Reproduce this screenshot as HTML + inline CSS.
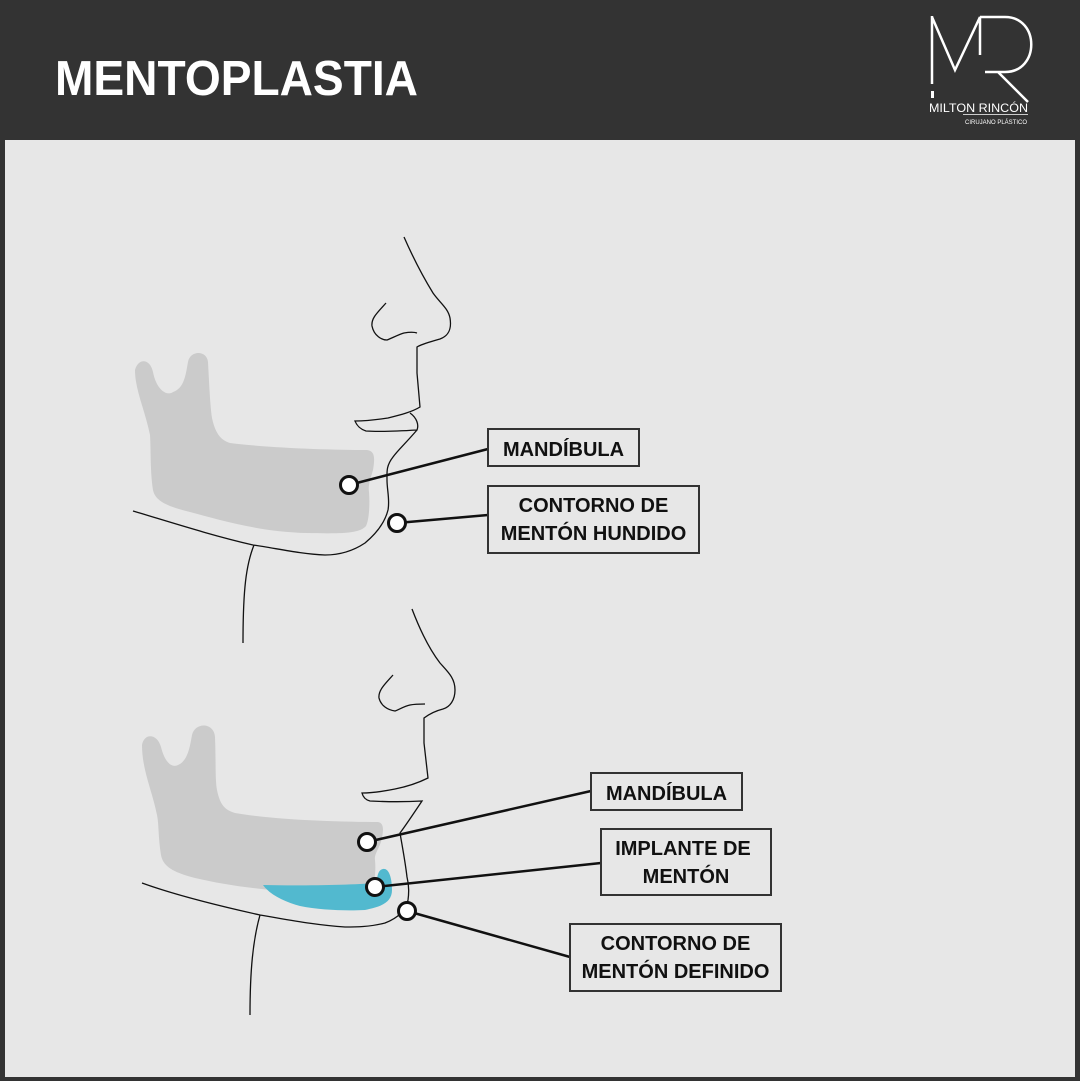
<!DOCTYPE html>
<html><head><meta charset="utf-8"><style>
html,body{margin:0;padding:0;background:#333;}
svg{display:block}
</style></head><body>
<svg width="1080" height="1081" viewBox="0 0 1080 1081" xmlns="http://www.w3.org/2000/svg">
<rect x="0" y="0" width="1080" height="1081" fill="#333"/>
<rect x="5" y="140" width="1070" height="937" fill="#e7e7e7"/>
<text x="55" y="95" font-family="Liberation Sans, sans-serif" font-weight="bold" font-size="49" fill="#fff" textLength="363" lengthAdjust="spacingAndGlyphs">MENTOPLASTIA</text>
<!-- logo -->
<g stroke="#fff" stroke-width="2.5" fill="none">
<path d="M932 16 V84 M932 17 L955 70 L980 17 V55"/>
<path d="M980 17 H1005 C1040 17 1040 72 1005 72 H985 M998 72 L1028 102"/>
</g>
<rect x="931" y="91" width="3" height="7" fill="#fff"/>
<text x="929" y="112" font-family="Liberation Sans, sans-serif" font-size="11.5" fill="#fff" textLength="99" lengthAdjust="spacingAndGlyphs">MILTON RINCÓN</text>
<line x1="963" y1="114.5" x2="1028" y2="114.5" stroke="#fff" stroke-width="0.8"/>
<text x="965" y="124" font-family="Liberation Sans, sans-serif" font-size="6.5" fill="#fff" textLength="62" lengthAdjust="spacingAndGlyphs">CIRUJANO PLÁSTICO</text>

<!-- top jaw -->
<path d="M135 370 C138 358 150 358 153 372 C157 392 168 396 173 392 C185 388 186 372 188 362 C190 350 207 350 208 362 C209 380 210 405 212 418 C215 432 220 440 230 443 C270 448 330 450 367 450 C375 451 375 458 373 470 C370 480 368 486 369 492 C370 505 369 520 366 526 C360 533 345 534 307 533 C260 532 220 520 190 512 C165 506 155 500 153 490 C150 470 151 450 150 435 C145 410 135 390 135 370 Z" fill="#cbcbcb"/>
<g stroke="#111" stroke-width="1.3" fill="none">
<path d="M404 237 C415 262 425 280 433 293 C440 303 448 308 450 318 C452 330 448 336 440 339 C430 342 422 344 417 347 L417 373 L420 407 C412 412 400 415 388 418 C375 420 365 421 355 421 C357 426 360 429 366 431 C380 432 400 431 417 430 C419 425 417 418 410 413 M417 430 C405 444 398 450 393 457 C386 466 387 472 387 480 C387 490 390 500 388 510 C385 522 377 533 365 543 C350 553 335 555 325 555 C300 554 275 548 253 545 C210 535 170 522 133 511"/>
<path d="M386 303 C378 312 371 318 372 326 C374 336 382 340 387 340 C392 338 400 334 404 333 C410 332 414 332 417 333"/>
<path d="M254 545 C246 565 243 590 243 643"/>
</g>
<!-- bottom jaw -->
<path d="M142 745 C144 733 157 733 161 747 C165 763 172 768 178 765 C188 761 190 746 192 735 C195 722 214 722 215 737 C216 760 215 780 217 790 C220 805 225 810 235 813 C275 820 340 822 378 822 C384 823 384 830 381 842 C378 850 374 855 375 860 C376 870 375 885 370 890 C360 895 330 893 300 892 C260 890 225 885 195 878 C172 872 163 866 161 855 C158 835 159 825 157 815 C152 790 142 770 142 745 Z" fill="#cbcbcb"/>
<path d="M263 885 C300 886 350 885 377 883 C377 876 378 870 383 869 C389 868 392 878 392 890 C392 903 380 907 365 910 C345 911 320 910 300 906 C285 902 270 895 263 885 Z" fill="#52b9cf"/>
<g stroke="#111" stroke-width="1.3" fill="none">
<path d="M412 609 C420 630 430 650 440 663 C448 672 455 678 455 690 C455 700 450 707 443 709 C435 711 428 715 424 718 L424 743 L428 778 C420 782 410 786 395 789 C380 792 370 793 362 793 C363 797 366 800 370 801 C390 802 405 802 422 801 C412 816 406 825 400 833 C402 845 405 860 407 877 C409 885 409 893 408 900 C406 910 398 918 385 923 C370 927 355 927 345 927 C315 925 290 920 260 915 C215 905 175 895 142 883"/>
<path d="M393 675 C386 683 378 690 379 698 C381 706 388 710 395 711 C400 709 405 706 410 705 C415 704 420 704 425 704"/>
<path d="M260 915 C253 940 250 970 250 1015"/>
</g>
<!-- connectors -->
<g stroke="#111" stroke-width="2.5" fill="none">
<line x1="349" y1="485" x2="488" y2="449"/>
<line x1="397" y1="523" x2="488" y2="515"/>
<line x1="367" y1="842" x2="591" y2="791"/>
<line x1="375" y1="887" x2="601" y2="863"/>
<line x1="407" y1="911" x2="570" y2="957"/>
</g>
<g fill="#fff" stroke="#111" stroke-width="3">
<circle cx="349" cy="485" r="8.5"/>
<circle cx="397" cy="523" r="8.5"/>
<circle cx="367" cy="842" r="8.5"/>
<circle cx="375" cy="887" r="8.5"/>
<circle cx="407" cy="911" r="8.5"/>
</g>
<!-- boxes -->
<g fill="#e7e7e7" stroke="#333" stroke-width="2">
<rect x="488" y="429" width="151" height="37"/>
<rect x="488" y="486" width="211" height="67"/>
<rect x="591" y="773" width="151" height="37"/>
<rect x="601" y="829" width="170" height="66"/>
<rect x="570" y="924" width="211" height="67"/>
</g>
<g font-family="Liberation Sans, sans-serif" font-weight="bold" font-size="20" fill="#111" text-anchor="middle">
<text x="563.5" y="456">MANDÍBULA</text>
<text x="593.5" y="512">CONTORNO DE</text>
<text x="593.5" y="540">MENTÓN HUNDIDO</text>
<text x="666.5" y="800">MANDÍBULA</text>
<text x="683" y="855">IMPLANTE DE</text>
<text x="686" y="883">MENTÓN</text>
<text x="675.5" y="950">CONTORNO DE</text>
<text x="675.5" y="978">MENTÓN DEFINIDO</text>
</g>
</svg>
</body></html>
